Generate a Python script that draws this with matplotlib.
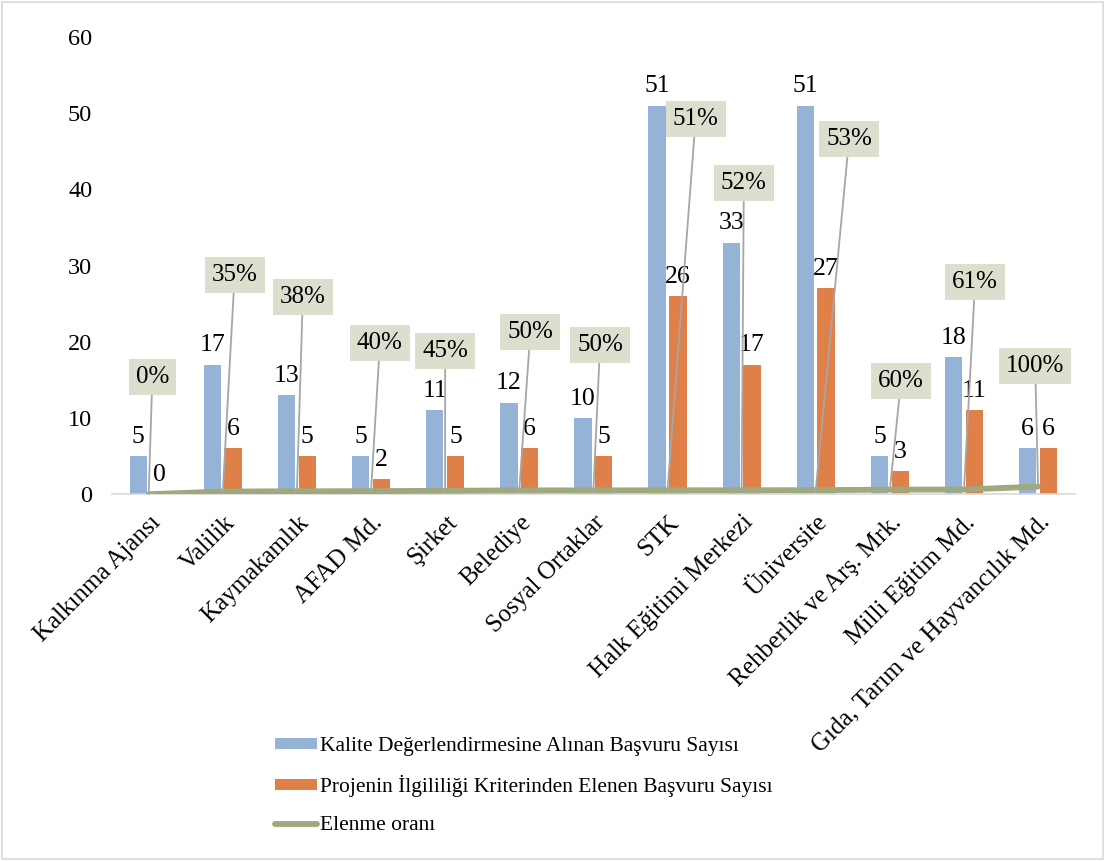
import matplotlib
matplotlib.use("Agg")
import matplotlib.pyplot as plt
import matplotlib.transforms as mtransforms
from matplotlib.patches import Rectangle
import numpy as np

plt.rcParams['font.family'] = ['Liberation Serif', 'DejaVu Serif']

categories = ["Kalkınma Ajansı", "Valilik", "Kaymakamlık", "AFAD Md.", "Şirket",
              "Belediye", "Sosyal Ortaklar", "STK", "Halk Eğitimi Merkezi",
              "Üniversite", "Rehberlik ve Arş. Mrk.", "Milli Eğitim Md.",
              "Gıda, Tarım ve Hayvancılık Md."]
kalite = [5, 17, 13, 5, 11, 12, 10, 51, 33, 51, 5, 18, 6]
elenen = [0, 6, 5, 2, 5, 6, 5, 26, 17, 27, 3, 11, 6]
oran = [0.00, 0.35, 0.38, 0.40, 0.45, 0.50, 0.50, 0.51, 0.52, 0.53, 0.60, 0.61, 1.00]

# where the % boxes sit (data coords, box centre)
pct_box_xy = [(0.05, 15.4), (1.16, 28.8), (2.08, 25.9), (3.12, 19.8), (4.0, 18.8),
              (5.15, 21.3), (6.09, 19.6), (7.38, 49.3), (8.03, 40.8), (9.45, 46.6),
              (10.15, 14.8), (11.15, 27.8), (11.96, 16.8)]

blue = "#95B3D7"
orange = "#DF8049"
olive = "#A0A87D"

fig = plt.figure(figsize=(11.05, 8.61), dpi=100)
ax = fig.add_axes([0.101, 0.426, 0.872, 0.531])

x = np.arange(len(categories))
w = 0.235
b1 = ax.bar(x - 0.14, kalite, w, color=blue, zorder=2, label="Kalite Değerlendirmesine Alınan Başvuru Sayısı")
b2 = ax.bar(x + 0.14, elenen, w, color=orange, zorder=2, label="Projenin İlgililiği Kriterinden Elenen Başvuru Sayısı")
ln, = ax.plot(x, oran, color=olive, lw=4.2, solid_capstyle='round', zorder=3, label="Elenme oranı")

for bars, vals in [(b1, kalite), (b2, elenen)]:
    for r, v in zip(bars, vals):
        ax.annotate(str(v), (r.get_x() + r.get_width() / 2, v), xytext=(0, 6),
                    textcoords="offset points", ha="center", va="bottom", fontsize=18.5, zorder=4)

for i, (v, (tx, ty)) in enumerate(zip(oran, pct_box_xy)):
    ax.annotate(f"{v:.0%}", (i, v), xytext=(tx, ty), textcoords="data",
                ha="center", va="center", fontsize=18, zorder=6,
                bbox=dict(boxstyle="square,pad=0.28", fc="#DCDFCE", ec="none"),
                arrowprops=dict(arrowstyle="-", color="#A6A6A6", lw=1.3, shrinkA=0, shrinkB=0))

ax.set_xlim(-0.5, len(categories) - 0.5)
ax.set_ylim(0, 60)
ax.set_yticks(range(0, 61, 10))
ax.tick_params(axis="y", length=0, pad=14, labelsize=17.5)
ax.tick_params(axis="x", length=0, pad=18, labelsize=18)
ax.set_xticks(x)
ax.set_xticklabels(categories, rotation=45, ha="right", va="center", rotation_mode="anchor")
shift = mtransforms.ScaledTranslation(6 / 72, 0, fig.dpi_scale_trans)
for lab in ax.get_xticklabels():
    lab.set_transform(lab.get_transform() + shift)

for s in ["top", "right", "left"]:
    ax.spines[s].set_visible(False)
ax.spines["bottom"].set_color("#D9D9D9")
ax.spines["bottom"].set_linewidth(1.2)

fig.legend(handles=[b1, b2, ln], loc="upper left", bbox_to_anchor=(0.249, 0.144),
           frameon=False, fontsize=15.5, borderpad=0, borderaxespad=0,
           handlelength=1.95, handleheight=0.37, handletextpad=0.15, labelspacing=0.88)

fig.patches.append(Rectangle((0.002, 0.002), 0.996, 0.996, transform=fig.transFigure,
                             fill=False, edgecolor="#D9D9D9", lw=1.2))

fig.savefig("out.png", dpi=100)
